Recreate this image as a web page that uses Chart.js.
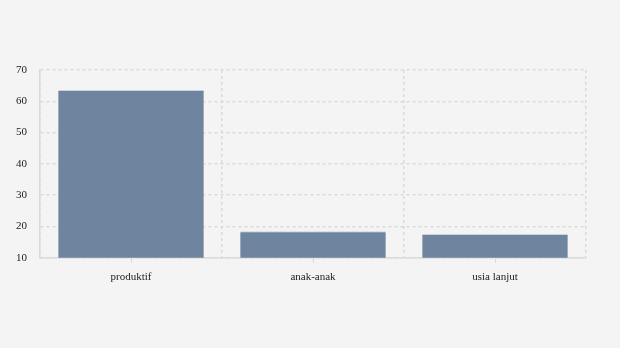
<!DOCTYPE html>
<html><head><meta charset="utf-8">
<script src="https://cdn.jsdelivr.net/npm/chart.js@4"></script>
<style>html,body{margin:0;padding:0;background:#f4f4f4;}#wrap{width:620px;height:348px;}</style>
</head><body><div id="wrap"><canvas id="c" width="620" height="348"></canvas></div>
<script>
const categories = ["produktif", "anak-anak", "usia lanjut"];
const values = [63.6, 18.5, 17.6];
const yTicks = [10, 20, 30, 40, 50, 60, 70];

const grid = { color: "#dadada", lineWidth: 1.5, drawTicks: false };
const centerTicks = { id: "centerTicks", afterDraw(ch) {
  const x = ch.scales.x, ctx = ch.ctx;
  ctx.save(); ctx.strokeStyle = "#d6d6d6"; ctx.lineWidth = 1;
  categories.forEach((c, i) => {
    const px = Math.round(x.getPixelForValue(i)) + 0.5;
    ctx.beginPath(); ctx.moveTo(px, x.top + 1); ctx.lineTo(px, x.top + 5); ctx.stroke();
  });
  ctx.restore();
} };
new Chart(document.getElementById("c"), {
  type: "bar",
  data: { labels: categories, datasets: [{ data: values, backgroundColor: "#6f849e", borderColor: "#c9d2dc", borderWidth: {top:1,left:0,right:0,bottom:0}, barPercentage: 0.8, categoryPercentage: 1 }] },
  options: {
    responsive: false, animation: false,
    layout: { padding: { top: 70, right: 34, left: 3, bottom: 51 } },
    plugins: { legend: { display: false }, tooltip: { enabled: false } },
    scales: {
      x: { grid: { ...grid, offset: true }, border: { display: true, color: "#dadada", width: 1.5, dash: [3, 3] },
           ticks: { color: "#222", font: { family: "Liberation Serif", size: 11 }, padding: 13 } },
      y: { min: 10, max: 70, afterBuildTicks: a => { a.ticks = yTicks.map(v => ({ value: v })); },
           grid: { ...grid }, border: { display: true, color: "#dadada", width: 1.5, dash: [3, 3] },
           ticks: { color: "#222", font: { family: "Liberation Serif", size: 11 }, padding: 13 } }
    }
  },
  plugins: [centerTicks]
});
</script></body></html>
